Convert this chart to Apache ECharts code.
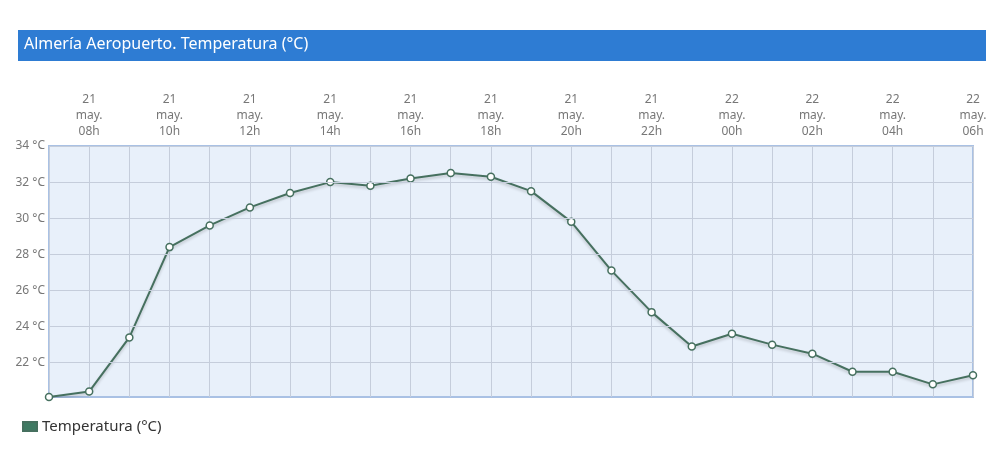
<!DOCTYPE html>
<html>
<head>
<meta charset="utf-8">
<script src="https://cdn.jsdelivr.net/npm/echarts@6/dist/echarts.min.js"></script>
<style>
  html, body { margin: 0; padding: 0; background: #fff; }
  #chart { width: 1000px; height: 456px; }
</style>
</head>
<body>
<div id="chart"></div>
<script>
/* Almería Aeropuerto - temperatura horaria */
var days  = ['21','21','21','21','21','21','21','21','21','21','21','21','21','21','21','21','21',
             '22','22','22','22','22','22','22'];
var hours = ['07h','08h','09h','10h','11h','12h','13h','14h','15h','16h','17h','18h','19h','20h','21h','22h','23h',
             '00h','01h','02h','03h','04h','05h','06h'];
var temps = [20.1, 20.4, 23.4, 28.4, 29.6, 30.6, 31.4, 32.0, 31.8, 32.2, 32.5, 32.3, 31.5, 29.8, 27.1, 24.8, 22.9,
             23.6, 23.0, 22.5, 21.5, 21.5, 20.8, 21.3];
var yTicks = [22, 24, 26, 28, 30, 32, 34];

var categories = [];
for (var i = 0; i < hours.length; i++) {
    categories.push(days[i] + '\nmay.\n' + hours[i]);
}

var chart = echarts.init(document.getElementById('chart'));
var fontFam = '"Noto Sans", "Open Sans", sans-serif';

var option = {
    backgroundColor: '#fff',
    textStyle: { fontFamily: fontFam },
    graphic: [
        {
            type: 'rect',
            left: 18, top: 30,
            shape: { width: 968, height: 31 },
            style: { fill: '#2e7cd3' },
            z: 1
        },
        {
            type: 'text',
            left: 24, top: 36,
            style: {
                text: 'Almería Aeropuerto. Temperatura (°C)',
                fill: '#fff',
                font: '16px ' + fontFam
            },
            z: 2
        }
    ],
    legend: {
        left: 17, top: 414,
        itemWidth: 14, itemHeight: 9,
        icon: 'rect',
        textStyle: { color: '#333', fontSize: 15, fontFamily: fontFam },
        data: [{ name: 'Temperatura (°C)', itemStyle: { color: '#3f7a63' } }]
    },
    grid: {
        left: 49, right: 27, top: 146, bottom: 59,
        show: true,
        backgroundColor: '#e8f0fa',
        borderColor: '#a9c1e4',
        borderWidth: 2
    },
    xAxis: {
        type: 'category',
        position: 'top',
        boundaryGap: false,
        data: categories,
        axisLine: { show: false },
        axisTick: { show: false },
        axisLabel: {
            interval: function (idx) { return idx % 2 === 1; },
            color: '#777',
            fontSize: 12,
            lineHeight: 16,
            margin: 6,
            fontFamily: fontFam
        },
        splitLine: {
            show: true,
            interval: 0,
            lineStyle: { color: '#c5cddb', width: 1 }
        }
    },
    yAxis: {
        type: 'value',
        min: 20.1, max: 34,
        axisLine: { show: false },
        axisTick: { show: false },
        axisLabel: { show: false },
        splitLine: { show: false }
    },
    series: [
        {
            // grid lines and labels at the even degrees
            type: 'line',
            data: [],
            silent: true,
            markLine: {
                silent: true,
                symbol: 'none',
                animation: false,
                lineStyle: { color: '#c5cddb', width: 1, type: 'solid' },
                label: {
                    position: 'start',
                    color: '#777',
                    fontSize: 12,
                    distance: 4,
                    fontFamily: fontFam,
                    formatter: function (p) { return p.value + ' °C'; }
                },
                data: yTicks.map(function (t) { return { yAxis: t }; })
            }
        },
        {
            name: 'Temperatura (°C)',
            type: 'line',
            data: temps,
            symbol: 'circle',
            symbolSize: 7,
            showAllSymbol: true,
            lineStyle: {
                color: '#46705f',
                width: 2,
                shadowColor: 'rgba(0,0,0,0.2)',
                shadowBlur: 3,
                shadowOffsetY: 2
            },
            itemStyle: {
                color: '#fff',
                borderColor: '#46705f',
                borderWidth: 1.5
            },
            z: 3,
            animation: false
        }
    ]
};

chart.setOption(option);
</script>
</body>
</html>
